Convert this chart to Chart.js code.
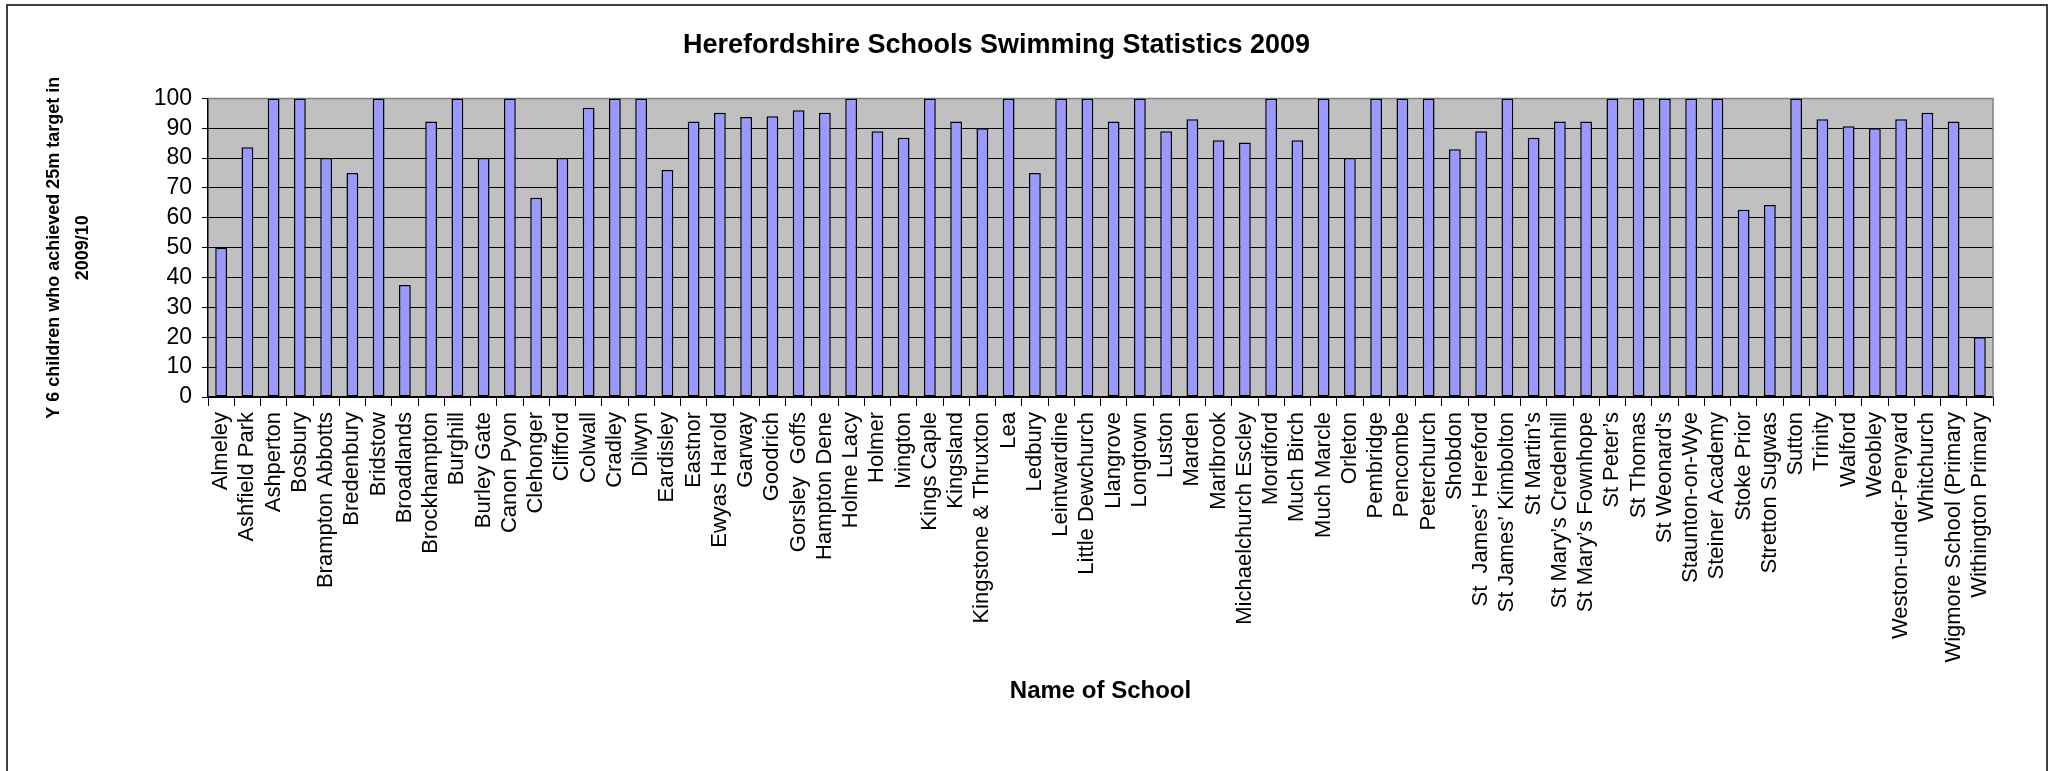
<!DOCTYPE html>
<html>
<head>
<meta charset="utf-8">
<script src="https://cdn.jsdelivr.net/npm/chart.js@4.4.0/dist/chart.umd.min.js"></script>
<style>
  html, body { margin: 0; padding: 0; background: #ffffff; }
  canvas { display: block; }
</style>
</head>
<body>
<canvas id="swim-chart" width="2056" height="771"></canvas>
<script>
const schools = [
  'Almeley', 'Ashfield Park', 'Ashperton', 'Bosbury', 'Brampton Abbotts', 'Bredenbury',
  'Bridstow', 'Broadlands', 'Brockhampton', 'Burghill', 'Burley Gate', 'Canon Pyon',
  'Clehonger', 'Clifford', 'Colwall', 'Cradley', 'Dilwyn', 'Eardisley', 'Eastnor',
  'Ewyas Harold', 'Garway', 'Goodrich', 'Gorsley  Goffs', 'Hampton Dene', 'Holme Lacy',
  'Holmer', 'Ivington', 'Kings Caple', 'Kingsland', 'Kingstone & Thruxton', 'Lea',
  'Ledbury', 'Leintwardine', 'Little Dewchurch', 'Llangrove', 'Longtown', 'Luston',
  'Marden', 'Marlbrook', 'Michaelchurch Escley', 'Mordiford', 'Much Birch', 'Much Marcle',
  'Orleton', 'Pembridge', 'Pencombe', 'Peterchurch', 'Shobdon', 'St  James\u2019 Hereford',
  'St James\u2019 Kimbolton', 'St Martin\u2019s', 'St Mary\u2019s Credenhill', 'St Mary\u2019s Fownhope',
  'St Peter\u2019s', 'St Thomas', 'St Weonard\u2019s', 'Staunton-on-Wye', 'Steiner Academy',
  'Stoke Prior', 'Stretton Sugwas', 'Sutton', 'Trinity', 'Walford', 'Weobley',
  'Weston-under-Penyard', 'Whitchurch', 'Wigmore School (Primary', 'Withington Primary'
]

// % of Y6 children reaching the 25m target
const achieved = [
  50, 83.6, 100, 100, 80, 75,
  100, 37.5, 92.3, 100, 80, 100,
  66.7, 80, 96.9, 100, 100, 76, 92.3,
  95.2, 93.8, 94, 96, 95.2, 100,
  89, 86.8, 100, 92.3, 90, 100,
  75, 100, 100, 92.3, 100, 89,
  93, 86, 85.2, 100, 86, 100,
  80, 100, 100, 100, 83, 89,
  100, 86.8, 92.3, 92.3,
  100, 100, 100, 100, 100,
  62.7, 64.3, 100, 93, 90.7, 90,
  93, 95.2, 92.3, 20
]

const yTicks = [0, 10, 20, 30, 40, 50, 60, 70, 80, 90, 100]

const fontFamily = '"Liberation Sans", Arial, sans-serif'

const chartFrame = { // белый фон, рамка диаграммы и серая область построения
  id: 'chartFrame',
  beforeDraw(chart) {
    const { ctx, chartArea: a } = chart
    ctx.save()
    ctx.fillStyle = '#ffffff'
    ctx.fillRect(0, 0, chart.width, chart.height)
    ctx.strokeStyle = '#404040'
    ctx.lineWidth = 2
    ctx.strokeRect(7, 5, 2040, 790)
    ctx.fillStyle = '#c0c0c0'
    ctx.fillRect(a.left, a.top, a.right - a.left, a.bottom - a.top)
    ctx.restore()
  },
  beforeDatasetsDraw(chart) {
    const { ctx, chartArea: a } = chart
    ctx.save()
    ctx.strokeStyle = '#808080'
    ctx.lineWidth = 1.5
    ctx.beginPath()
    ctx.moveTo(a.left, a.top)
    ctx.lineTo(a.right, a.top)
    ctx.lineTo(a.right, a.bottom)
    ctx.stroke()
    ctx.restore()
  }
}

const config = {
  type: 'bar',
  data: {
    labels: schools,
    datasets: [{
      data: achieved,
      backgroundColor: '#9999ff',
      borderColor: '#000000',
      borderWidth: 1.5,
      borderSkipped: false,
      categoryPercentage: 1.0,
      barPercentage: 0.45
    }]
  },
  options: {
    responsive: false,
    animation: false,
    devicePixelRatio: 1,
    layout: {
      padding: { left: 0, right: 63, top: 0, bottom: 0 }
    },
    plugins: {
      legend: { display: false },
      tooltip: { enabled: false },
      title: {
        display: true,
        text: 'Herefordshire Schools Swimming Statistics 2009',
        color: '#000000',
        font: { family: fontFamily, size: 27, weight: 'bold', lineHeight: 1.2 },
        padding: { top: 29, bottom: 37 }
      }
    },
    scales: {
      x: {
        afterFit: (scale) => { scale.height = 374 },
        grid: {
          display: true,
          drawOnChartArea: false,
          drawTicks: true,
          tickLength: 9,
          offset: true,
          color: '#000000',
          lineWidth: 1
        },
        border: { display: true, color: '#000000', width: 1.5 },
        ticks: {
          autoSkip: false,
          minRotation: 90,
          maxRotation: 90,
          padding: 6,
          color: '#000000',
          font: { family: fontFamily, size: 22 }
        },
        title: {
          display: true,
          text: 'Name of School',
          color: '#000000',
          font: { family: fontFamily, size: 24, weight: 'bold', lineHeight: 1.2 },
          padding: { top: 0, bottom: 65 }
        }
      },
      y: {
        min: 0,
        max: 100,
        afterFit: (scale) => { scale.width = 208 },
        afterBuildTicks: (scale) => { scale.ticks = yTicks.map(v => ({ value: v })) },
        grid: {
          color: '#000000',
          lineWidth: 1,
          drawTicks: true,
          tickLength: 6
        },
        border: { display: true, color: '#000000', width: 1.5 },
        ticks: {
          autoSkip: false,
          stepSize: 10,
          padding: 10,
          color: '#000000',
          font: { family: fontFamily, size: 23 }
        },
        title: {
          display: true,
          text: ['Y 6 children who achieved 25m target in', '2009/10'],
          color: '#000000',
          font: { family: fontFamily, size: 18, weight: 'bold', lineHeight: 1.6 },
          padding: { top: 40, bottom: 0 }
        }
      }
    }
  },
  plugins: [chartFrame]
}

try {
  new Chart(document.getElementById('swim-chart'), config)
} catch (error) {
  console.error(`Chart render failed: ${error}`)
}
</script>
</body>
</html>
